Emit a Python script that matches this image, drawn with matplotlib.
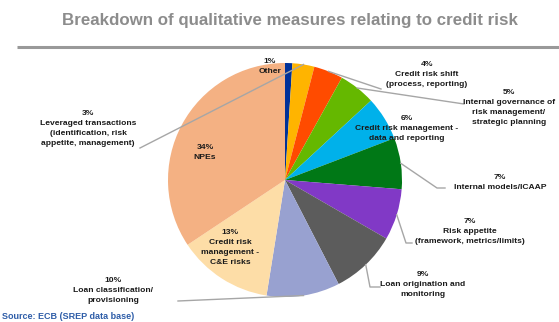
import numpy as np
import matplotlib.pyplot as plt

# Datos del gráfico (porcentajes, en el orden de las agujas del reloj desde arriba)
categories = [
    "Other",
    "Leveraged transactions\n(identification, risk\nappetite, management)",
    "Credit risk shift\n(process, reporting)",
    "Internal governance of\nrisk management/\nstrategic planning",
    "Credit risk management -\ndata and reporting",
    "Internal models/ICAAP",
    "Risk appetite\n(framework, metrics/limits)",
    "Loan origination and\nmonitoring",
    "Loan classification/\nprovisioning",
    "Credit risk\nmanagement -\nC&E risks",
    "NPEs",
]
values = [1, 3, 4, 5, 6, 7, 7, 9, 10, 13, 34]
colors = ["#003299", "#FFB400", "#FF4B00", "#65B800", "#00B1EA", "#007816",
          "#8139C6", "#5C5C5C", "#98A1D0", "#FDDDA7", "#F4B183"]

# Posiciones de las etiquetas (en píxeles) y líneas guía
label_pos = [(270, 66), (88, 128), (427, 74), (509, 107), (407, 128), (500, 182),
             (470, 231), (423, 285), (113, 290), (230, 247), (205, 152)]
# puntos intermedios / finales de las líneas guía (None = sin línea)
leader = [None,
          [(140, 148)],
          [(381, 89)],
          [(464, 104)],
          None,
          [(437, 188), (445, 188)],
          [(406, 243), (412, 243)],
          [(370, 287), (380, 287)],
          [(178, 301)],
          None,
          None]

W, H = 559, 322
cx, cy, r = 285, 180, 117

fig = plt.figure(figsize=(W / 100, H / 100), dpi=100)
ax = fig.add_axes([0, 0, 1, 1])

wedges, _ = ax.pie(values, colors=colors, startangle=-90, counterclock=True,
                   center=(cx, cy), radius=r, frame=True,
                   wedgeprops=dict(linewidth=0))
ax.set_xlim(0, W)
ax.set_ylim(H, 0)
ax.set_aspect("auto")
ax.axis("off")

# Etiquetas
for i, (name, v) in enumerate(zip(categories, values)):
    x, y = label_pos[i]
    ax.text(x, y, f"{v}%\n{name}", ha="center", va="center", fontsize=6.1,
            fontweight="bold", color="#1A1A1A", family="Liberation Sans",
            linespacing=1.6, zorder=5)
    if leader[i] is not None:
        w = wedges[i]
        ang = np.deg2rad((w.theta1 + w.theta2) / 2)
        pts = [(cx + r * np.cos(ang), cy + r * np.sin(ang))] + leader[i]
        xs, ys = zip(*pts)
        ax.plot(xs, ys, color="#A6A6A6", lw=1.0, zorder=4)

# Título y línea
fig.text(290 / W, 1 - 20 / H, "Breakdown of qualitative measures relating to credit risk",
         ha="center", va="center", fontsize=12.2, fontweight="bold", color="#8C8C8C",
         family="Liberation Sans")
ax.plot([17, W], [47, 47], color="#999999", lw=2.2, solid_capstyle="butt")

# Fuente
ax.text(2, 321, "Source: ECB (SREP data base)", ha="left", va="bottom", fontsize=6.5,
        fontweight="bold", color="#2E5DA8", family="Liberation Sans")

plt.savefig("out.png", dpi=100)
